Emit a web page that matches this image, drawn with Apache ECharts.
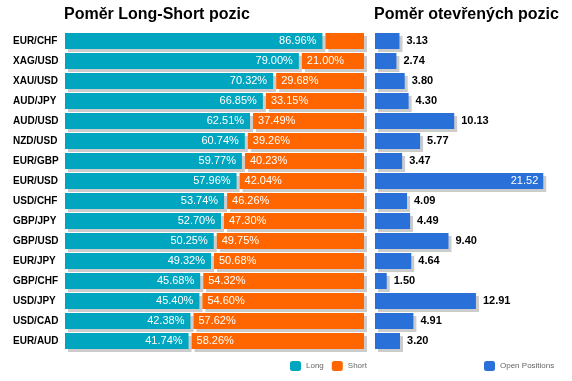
<!DOCTYPE html>
<html><head><meta charset="utf-8">
<script src="https://cdn.jsdelivr.net/npm/echarts@6/dist/echarts.min.js"></script>
<style>html,body{margin:0;padding:0;background:#fff}#c{width:572px;height:381px}</style>
</head><body><div id="c"></div>
<script>
var categories = ['EUR/CHF','XAG/USD','XAU/USD','AUD/JPY','AUD/USD','NZD/USD','EUR/GBP','EUR/USD','USD/CHF','GBP/JPY','GBP/USD','EUR/JPY','GBP/CHF','USD/JPY','USD/CAD','EUR/AUD'];
var longValues = [86.96,79.00,70.32,66.85,62.51,60.74,59.77,57.96,53.74,52.70,50.25,49.32,45.68,45.40,42.38,41.74];
var shortValues = [13.04,21.00,29.68,33.15,37.49,39.26,40.23,42.04,46.26,47.30,49.75,50.68,54.32,54.60,57.62,58.26];
var openPositions = [3.13,2.74,3.80,4.30,10.13,5.77,3.47,21.52,4.09,4.49,9.40,4.64,1.50,12.91,4.91,3.20];

var TEAL = '#00A6BF', ORANGE = '#FF6600', BLUE = '#2A70D9', SHADOW = '#CCCCCC';
var FONT = 'Liberation Sans, Arial, sans-serif';
var shadowStyle = {shadowColor: SHADOW, shadowBlur: 0, shadowOffsetX: 3, shadowOffsetY: 3};
var lsMax = 100 * 299 / 296;

var chart = echarts.init(document.getElementById('c'), null, {renderer: 'canvas'});
chart.setOption({
  animation: false,
  textStyle: {fontFamily: FONT},
  title: [
    {text: 'Poměr Long-Short pozic', left: 64, top: 7, padding: 0, textStyle: {fontSize: 16, fontWeight: 'bold', color: '#000', fontFamily: FONT}},
    {text: 'Poměr otevřených pozic', left: 374, top: 7, padding: 0, textStyle: {fontSize: 16, fontWeight: 'bold', color: '#000', fontFamily: FONT}}
  ],
  legend: [
    {data: ['Long', 'Short'], left: 290, top: 361, padding: 0, itemWidth: 11, itemHeight: 10, itemGap: 8,
     textStyle: {fontSize: 8, color: '#666', fontFamily: FONT},
     itemStyle: {shadowColor: 'transparent', shadowOffsetX: 0, shadowOffsetY: 0}},
    {data: ['Open Positions'], left: 484, top: 361, padding: 0, itemWidth: 11, itemHeight: 10,
     textStyle: {fontSize: 8, color: '#666', fontFamily: FONT},
     itemStyle: {shadowColor: 'transparent', shadowOffsetX: 0, shadowOffsetY: 0}}
  ],
  grid: [
    {left: 65, top: 31, width: 299, height: 320},
    {left: 375, top: 31, width: 172, height: 320}
  ],
  xAxis: [
    {gridIndex: 0, type: 'value', min: 0, max: lsMax, show: false},
    {gridIndex: 0, type: 'value', min: 0, max: lsMax, inverse: true, show: false},
    {gridIndex: 1, type: 'value', min: 0, max: 22, show: false}
  ],
  yAxis: [
    {gridIndex: 0, type: 'category', data: categories, inverse: true,
     axisLine: {show: false}, axisTick: {show: false},
     axisLabel: {align: 'left', margin: 52, fontSize: 10, fontWeight: 'bold', color: '#000', fontFamily: FONT}},
    {gridIndex: 1, type: 'category', data: categories, inverse: true, show: false}
  ],
  series: [
    {name: 'Long', type: 'bar', xAxisIndex: 0, yAxisIndex: 0, data: longValues, barWidth: 16, barGap: '-100%',
     itemStyle: Object.assign({color: TEAL}, shadowStyle),
     label: {show: true, position: 'insideRight', distance: 6, color: '#fff', fontSize: 11, fontFamily: FONT,
       formatter: function (p) { return p.value.toFixed(2) + '%'; }},
     emphasis: {disabled: true}},
    {name: 'Short', type: 'bar', xAxisIndex: 1, yAxisIndex: 0, data: shortValues, barWidth: 16, barGap: '-100%',
     itemStyle: Object.assign({color: ORANGE}, shadowStyle),
     label: {show: true, position: 'insideLeft', distance: 5, color: '#fff', fontSize: 11, fontFamily: FONT,
       formatter: function (p) { return p.value < 20 ? '' : p.value.toFixed(2) + '%'; }},
     emphasis: {disabled: true}},
    {name: 'Open Positions', type: 'bar', xAxisIndex: 2, yAxisIndex: 1, barWidth: 16,
     data: openPositions.map(function (v) {
       return v > 20 ? {value: v, label: {position: 'insideRight', distance: 5, color: '#fff', fontWeight: 'normal'}} : v;
     }),
     itemStyle: Object.assign({color: BLUE}, shadowStyle),
     label: {show: true, position: 'right', distance: 7, color: '#000', fontSize: 11, fontWeight: 'bold', fontFamily: FONT,
       formatter: function (p) { return p.value.toFixed(2); }},
     emphasis: {disabled: true}}
  ]
});
</script></body></html>
